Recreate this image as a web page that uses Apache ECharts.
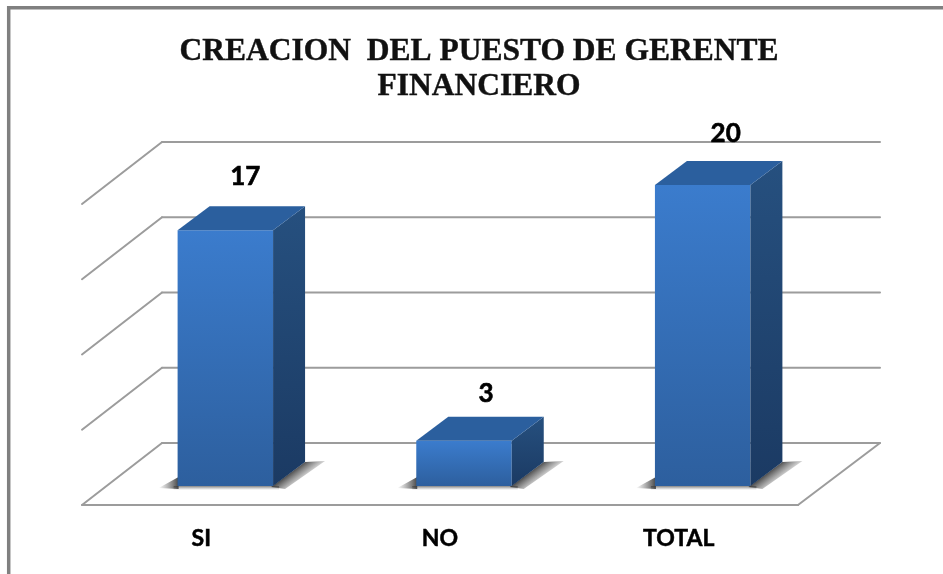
<!DOCTYPE html>
<html><head><meta charset="utf-8">
<style>html,body{margin:0;padding:0;background:#fff}#c{width:943px;height:574px}</style>
<script src="https://cdn.jsdelivr.net/npm/echarts@6/dist/echarts.min.js"></script>
</head><body><div id="c"></div>
<script>
const titleText = 'CREACION  DEL PUESTO DE GERENTE\nFINANCIERO';
const categories = ['SI', 'NO', 'TOTAL'];
const values = [17, 3, 20];
const ticks = [0, 5, 10, 15, 20];

const wallDX = 80, wallDY = -62;
const barShiftX = 24, barShiftY = -19;
const barDX = 32, barDY = -24;
const gridCol = '#9c9c9c';
const labelNudges = [[44, -60], [46, -53], [47, -57]];

const chart = echarts.init(document.getElementById('c'), null, {renderer: 'canvas'});

function renderWall(params, api) {
  const v = api.value(0);
  const y = api.coord([0, v])[1];
  const cs = params.coordSys;
  const x0 = cs.x, x1 = cs.x + cs.width;
  const line = (a, b, c, d) => ({type: 'line', shape: {x1: a, y1: b, x2: c, y2: d},
    style: {stroke: gridCol, lineWidth: 2, lineCap: 'round'}});
  const children = [line(x0, y, x0 + wallDX, y + wallDY),
                    line(x0 + wallDX, y + wallDY, x1 + wallDX + 2, y + wallDY)];
  if (v === 0) {
    children.push(line(x0, y, x1, y), line(x1, y, x1 + wallDX + 2, y + wallDY));
  }
  return {type: 'group', children};
}

function renderBar(params, api) {
  const idx = api.value(0);
  const top = api.coord([idx, api.value(1)]);
  const base = api.coord([idx, 0]);
  const w = api.size([1, 0])[0] * 0.4;
  const l = top[0] - w / 2 + barShiftX, r = l + w;
  const yt = top[1] + barShiftY, yb = base[1] + barShiftY;
  const poly = (pts, fill) => ({type: 'polygon', shape: {points: pts}, style: {fill}});
  const lin = (a, b) => new echarts.graphic.LinearGradient(0, 0, 0, 1, [
    {offset: 0, color: a}, {offset: 1, color: b}]);
  const fade = (x0, y0, x2, y2, alpha) => new echarts.graphic.LinearGradient(x0, y0, x2, y2, [
    {offset: 0, color: 'rgba(50,50,50,' + alpha + ')'}, {offset: 1, color: 'rgba(90,90,90,0)'}], true);
  return {type: 'group', children: [
    poly([[r - 2, yb + 1], [r + barDX, yb + barDY], [r + barDX + 20, yb + barDY - 1], [r + 12, yb + 3]],
      fade(r + barDX / 2, yb + barDY / 2, r + barDX / 2 + 10, yb + barDY / 2 + 13, 0.85)),
    poly([[l - 19, yb + 2], [l + 1, yb - 9], [l + 1, yb + 3]], fade(l, yb, l - 19, yb, 0.85)),
    poly([[l - 4, yb], [r + 6, yb], [r + 6, yb + 4], [l - 4, yb + 4]], fade(l, yb, l, yb + 4, 0.6)),
    poly([[l, yt], [r, yt], [r, yb], [l, yb]], lin('#3b7ccd', '#2d5f9e')),
    poly([[r, yt], [r + barDX, yt + barDY], [r + barDX, yb + barDY], [r, yb]], lin('#26507f', '#1b3a63')),
    poly([[l, yt], [l + barDX, yt + barDY], [r + barDX, yt + barDY], [r, yt]], '#2b5f9e')
  ]};
}

chart.setOption({
  animation: false,
  backgroundColor: '#fff',
  title: {text: titleText, left: 474, top: 29, textAlign: 'center',
    textStyle: {fontFamily: 'Liberation Serif', fontSize: 31.5, fontWeight: 'bold', color: '#111', lineHeight: 35,
      textBorderColor: '#111', textBorderWidth: 0.4}},
  grid: {left: 82, top: 204, width: 716, height: 301},
  xAxis: {type: 'category', data: categories, axisLine: {show: false}, axisTick: {show: false},
    splitLine: {show: false},
    axisLabel: {margin: 22, fontFamily: 'Lato', fontSize: 23, fontWeight: 'bold', color: '#000',
      textBorderColor: '#000', textBorderWidth: 0.5}},
  yAxis: {type: 'value', min: 0, max: 20, interval: 5, show: false, splitLine: {show: false}},
  graphic: [{type: 'polyline', silent: true, z: 100,
    shape: {points: [[8.7, 574], [8.7, 7.7], [943, 7.7]]},
    style: {fill: null, stroke: '#808080', lineWidth: 3.5}}],
  series: [
    {type: 'custom', name: 'wall', z: 1, silent: true, data: ticks.map(t => [t]),
     encode: {y: 0}, renderItem: renderWall, clip: false},
    {type: 'custom', name: 'bars', z: 2, data: values.map((v, i) => [i, v]),
     encode: {x: 0, y: 1}, renderItem: renderBar, clip: false},
    {type: 'scatter', name: 'labels', z: 3, symbolSize: 0, silent: true, itemStyle: {color: '#000', opacity: 1},
     data: values.map((v, i) => ({value: [categories[i], v],
       label: {offset: labelNudges[i]}})),
     label: {show: true, position: 'top', distance: 0, formatter: p => p.value[1], opacity: 1,
       fontFamily: 'Lato', fontSize: 26, fontWeight: 'bold', color: '#000',
       textBorderColor: '#000', textBorderWidth: 0.6}}
  ]
});
</script></body></html>
